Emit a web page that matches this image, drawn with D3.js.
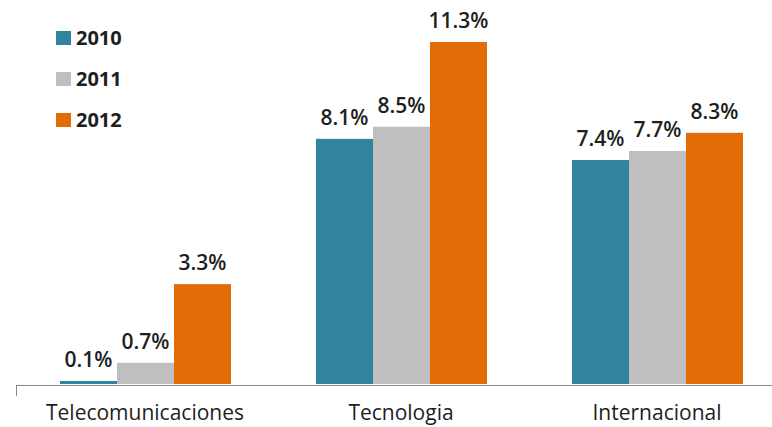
<!DOCTYPE html>
<html>
<head>
<meta charset="utf-8">
<script src="https://cdn.jsdelivr.net/npm/d3@7"></script>
<style>
  body { margin: 0; background: #fff; }
  svg { display: block; font-family: "Open Sans", "Noto Sans", sans-serif; }
</style>
</head>
<body>
<svg id="chart" width="772" height="427"></svg>
<script>
const categories = ['Telecomunicaciones', 'Tecnologia', 'Internacional'];
const years = ['2010', '2011', '2012'];
const v2010 = [0.1, 8.1, 7.4];
const v2011 = [0.7, 8.5, 7.7];
const v2012 = [3.3, 11.3, 8.3];
const colors = ['#31849b', '#bfbfbf', '#e36c09'];

const series = [v2010, v2011, v2012];
const rows = [];
categories.forEach((c, i) => {
  years.forEach((y, j) => rows.push({ cat: c, year: y, value: series[j][i], color: colors[j] }));
});

const svg = d3.select('#chart');
const baseY = 384;

const x = d3.scaleBand().domain(categories).range([17, 785]);
// bars occupy ~171px in the middle of each 256px band
const xInner = d3.scaleBand().domain(years).range([43, 43 + 171]);
const y = d3.scaleLinear().domain([0, 11.3]).range([baseY, 42]);

// axis line
svg.append('line')
  .attr('x1', 16).attr('x2', 772)
  .attr('y1', baseY + 1.5).attr('y2', baseY + 1.5)
  .attr('stroke', '#868686').attr('stroke-width', 1);
svg.append('line')
  .attr('x1', 16.5).attr('x2', 16.5)
  .attr('y1', baseY + 1).attr('y2', baseY + 12)
  .attr('stroke', '#868686').attr('stroke-width', 1);

svg.append('g').selectAll('rect')
  .data(rows)
  .enter()
  .append('rect')
  .attr('x', d => x(d.cat) + xInner(d.year))
  .attr('y', d => y(d.value))
  .attr('width', xInner.bandwidth())
  .attr('height', d => baseY - y(d.value))
  .attr('fill', d => d.color);

svg.append('g').selectAll('text')
  .data(rows)
  .enter()
  .append('text')
  .attr('x', d => x(d.cat) + xInner(d.year) + xInner.bandwidth() / 2)
  .attr('y', d => y(d.value) - 14)
  .attr('text-anchor', 'middle')
  .attr('font-size', 21)
  .attr('font-weight', 600)
  .attr('fill', '#1e1e1e')
  .text(d => d.value.toFixed(1) + '%');

svg.append('g').selectAll('text')
  .data(categories)
  .enter()
  .append('text')
  .attr('x', d => x(d) + x.bandwidth() / 2)
  .attr('y', 420)
  .attr('text-anchor', 'middle')
  .attr('font-size', 21)
  .attr('fill', '#1e1e1e')
  .text(d => d);

// legend
const legend = svg.append('g').selectAll('g')
  .data(years)
  .enter()
  .append('g')
  .attr('transform', (d, i) => `translate(56, ${31 + i * 41})`);
legend.append('rect')
  .attr('width', 15).attr('height', 14)
  .attr('fill', (d, i) => colors[i]);
legend.append('text')
  .attr('x', 20).attr('y', 14)
  .attr('font-size', 20)
  .attr('font-weight', 'bold')
  .attr('fill', '#1e1e1e')
  .text(d => d);
</script>
</body>
</html>
